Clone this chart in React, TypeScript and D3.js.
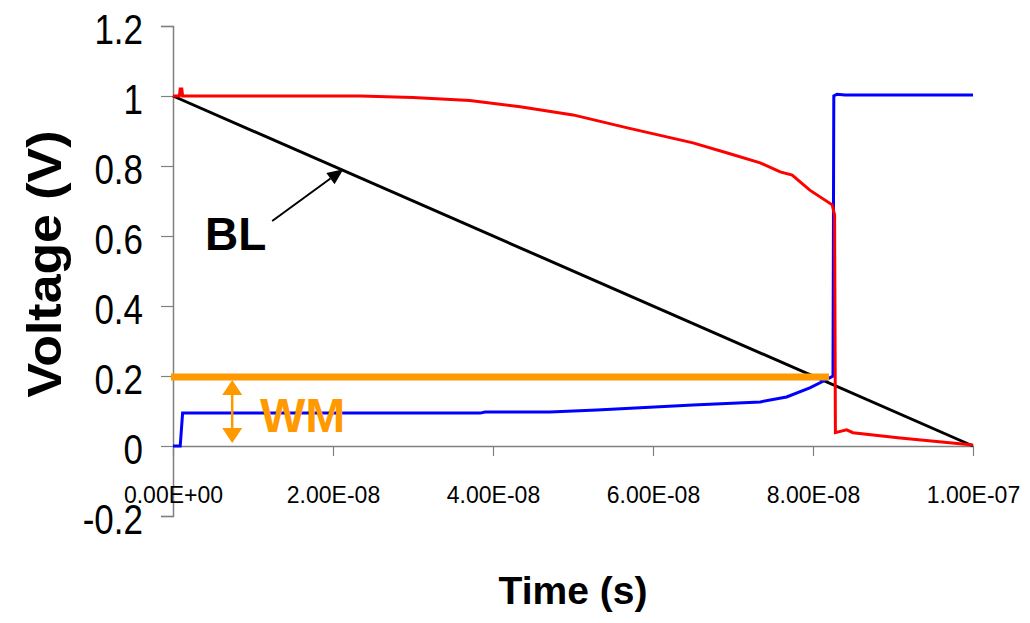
import React, { useRef, useEffect } from 'react';
import * as d3 from 'd3';

// storage node (red), complementary node (blue), bit line ramp (black)
const redTime = [0, 0.08e-8, 0.09e-8, 0.11e-8, 0.12e-8, 1.0e-8, 2.34e-8, 3.0e-8, 3.71e-8, 4.34e-8, 5.0e-8, 5.68e-8, 6.5e-8, 6.93e-8, 7.34e-8, 7.59e-8, 7.74e-8, 7.96e-8, 8.24e-8, 8.27e-8, 8.28e-8, 8.42e-8, 8.5e-8, 9.09e-8, 1.0e-7];
const redVolt = [1.0, 1.0, 1.02, 1.02, 1.0, 1.0, 1.0, 0.996, 0.987, 0.969, 0.946, 0.909, 0.866, 0.837, 0.809, 0.783, 0.774, 0.731, 0.689, 0.66, 0.038, 0.046, 0.038, 0.023, 0.003];

const blueTime = [0, 0.09e-8, 0.12e-8, 2.34e-8, 3.84e-8, 3.9e-8, 4.71e-8, 5.3e-8, 6.5e-8, 7.34e-8, 7.67e-8, 7.96e-8, 8.17e-8, 8.25e-8, 8.26e-8, 8.3e-8, 8.4e-8, 1.0e-7];
const blueVolt = [0, 0, 0.094, 0.094, 0.094, 0.097, 0.097, 0.103, 0.117, 0.126, 0.14, 0.166, 0.19, 0.2, 1.0, 1.005, 1.003, 1.003];

const blackTime = [0, 1.0e-7];
const blackVolt = [1.0, 0.0];

const wmLevel = 0.2;
const wmEnd = 8.2e-8;

const xTicks = [0, 2e-8, 4e-8, 6e-8, 8e-8, 1e-7];
const xTickLabels = ['0.00E+00', '2.00E-08', '4.00E-08', '6.00E-08', '8.00E-08', '1.00E-07'];
const yTicks = [-0.2, 0, 0.2, 0.4, 0.6, 0.8, 1, 1.2];
const yTickLabels = ['-0.2', '0', '0.2', '0.4', '0.6', '0.8', '1', '1.2'];

const font = "'Liberation Sans', Arial, sans-serif";

export default function App() {
  const svgRef = useRef<SVGSVGElement>(null);

  useEffect(() => {
    const svg = d3.select(svgRef.current);
    svg.selectAll('*').remove();

    const x = d3.scaleLinear().domain([0, 1e-7]).range([173, 973]);
    const y = d3.scaleLinear().domain([-0.2, 1.2]).range([516, 26]);

    // y axis
    const yAxis = svg.append('g')
      .attr('transform', 'translate(' + x(0) + ',0)')
      .call(d3.axisLeft(y).tickValues(yTicks).tickSize(12).tickFormat((d, i) => yTickLabels[i]));
    yAxis.select('.domain').attr('stroke', '#808080').attr('stroke-width', 1.5);
    yAxis.selectAll('.tick line').attr('stroke', '#808080').attr('stroke-width', 1.2);
    yAxis.selectAll('.tick text')
      .attr('x', -30).attr('dy', '0.42em')
      .attr('transform', 'scale(1,1.2)')
      .attr('font-family', font).attr('font-size', 35).attr('fill', '#000');

    // x axis sits at V = 0
    const xAxis = svg.append('g')
      .attr('transform', 'translate(0,' + y(0) + ')')
      .call(d3.axisBottom(x).tickValues(xTicks).tickSize(10).tickSizeOuter(0).tickFormat((d, i) => xTickLabels[i]));
    xAxis.select('.domain').attr('stroke', '#808080').attr('stroke-width', 1.5);
    xAxis.selectAll('.tick line').attr('stroke', '#808080').attr('stroke-width', 1.2);
    xAxis.selectAll('.tick text')
      .attr('y', 57).attr('dy', 0)
      .attr('font-family', font).attr('font-size', 23).attr('fill', '#000');

    const line = d3.line<[number, number]>().x(d => x(d[0])).y(d => y(d[1]));

    svg.append('path')
      .attr('d', line(blackTime.map((t, i) => [t, blackVolt[i]])))
      .attr('fill', 'none').attr('stroke', '#000').attr('stroke-width', 3);

    svg.append('path')
      .attr('d', line(blueTime.map((t, i) => [t, blueVolt[i]])))
      .attr('fill', 'none').attr('stroke', '#0000ff').attr('stroke-width', 3);

    svg.append('path')
      .attr('d', line(redTime.map((t, i) => [t, redVolt[i]])))
      .attr('fill', 'none').attr('stroke', '#ff0000').attr('stroke-width', 3);

    // write margin bar
    svg.append('line')
      .attr('x1', x(0) - 2).attr('x2', x(wmEnd))
      .attr('y1', y(wmLevel) + 1).attr('y2', y(wmLevel) + 1)
      .attr('stroke', '#ff9900').attr('stroke-width', 7);

    // double arrow for WM
    const ax = x(0.74e-8);
    const top = y(wmLevel) + 4, bot = y(0) - 3;
    svg.append('line')
      .attr('x1', ax).attr('x2', ax).attr('y1', top + 10).attr('y2', bot - 10)
      .attr('stroke', '#ff9900').attr('stroke-width', 2.5);
    svg.append('polygon')
      .attr('points', [[ax, top], [ax - 10, top + 15], [ax + 10, top + 15]].map(p => p.join(',')).join(' '))
      .attr('fill', '#ff9900');
    svg.append('polygon')
      .attr('points', [[ax, bot], [ax - 10, bot - 15], [ax + 10, bot - 15]].map(p => p.join(',')).join(' '))
      .attr('fill', '#ff9900');
    svg.append('text')
      .attr('x', 260).attr('y', 432)
      .attr('font-family', font).attr('font-weight', 'bold').attr('font-size', 48)
      .attr('fill', '#ff9900').text('WM');

    // BL label and arrow
    const tipX = x(2.13e-8), tipY = y(0.791);
    const tailX = x(1.24e-8), tailY = y(0.643);
    const ang = Math.atan2(tipY - tailY, tipX - tailX);
    const hl = 16, hw = 7;
    const bx = tipX - hl * Math.cos(ang), by = tipY - hl * Math.sin(ang);
    svg.append('line')
      .attr('x1', tailX).attr('y1', tailY).attr('x2', bx).attr('y2', by)
      .attr('stroke', '#000').attr('stroke-width', 2);
    svg.append('polygon')
      .attr('points', [
        [tipX, tipY],
        [bx + hw * Math.sin(ang), by - hw * Math.cos(ang)],
        [bx - hw * Math.sin(ang), by + hw * Math.cos(ang)]
      ].map(p => p.join(',')).join(' '))
      .attr('fill', '#000');
    svg.append('text')
      .attr('x', 205).attr('y', 250)
      .attr('font-family', font).attr('font-weight', 'bold').attr('font-size', 46)
      .attr('fill', '#000').text('BL');

    // axis titles
    svg.append('text')
      .attr('transform', 'translate(61,264) rotate(-90) scale(1.08,1)')
      .attr('text-anchor', 'middle')
      .attr('font-family', font).attr('font-weight', 'bold').attr('font-size', 48)
      .attr('fill', '#000').text('Voltage (V)');
    svg.append('text')
      .attr('x', 573).attr('y', 604)
      .attr('text-anchor', 'middle')
      .attr('font-family', font).attr('font-weight', 'bold').attr('font-size', 39)
      .attr('fill', '#000').text('Time (s)');
  }, []);

  return (
    <svg ref={svgRef} width={1030} height={623}
      style={{ position: 'absolute', left: 0, top: 0, background: '#fff' }} />
  );
}
